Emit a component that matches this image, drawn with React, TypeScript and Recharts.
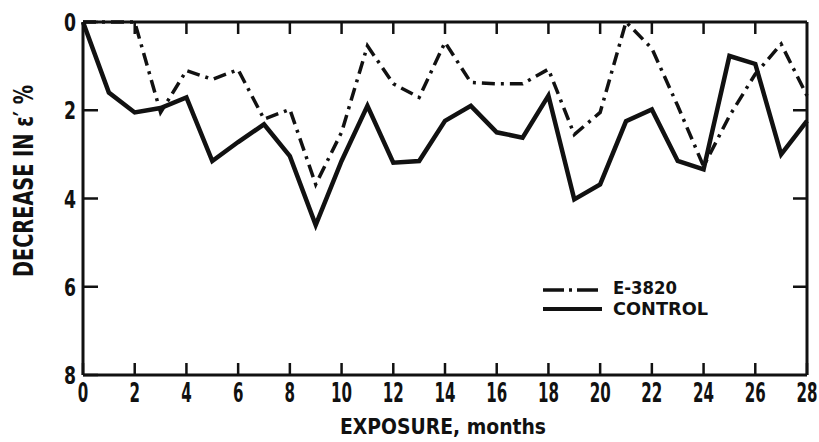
import React from 'react';
import { LineChart, Line, XAxis, YAxis } from 'recharts';

// months of exposure
const months = [0, 1, 2, 3, 4, 5, 6, 7, 8, 9, 10, 11, 12, 13, 14, 15, 16, 17, 18, 19, 20, 21, 22, 23, 24, 25, 26, 27, 28];

// decrease in %
const e3820 = [0, 0, 0, 2.05, 1.1, 1.3, 1.08, 2.2, 1.98, 3.68, 2.5, 0.54, 1.4, 1.71, 0.46, 1.37, 1.4, 1.4, 1.07, 2.55, 2.05, 0, 0.6, 1.9, 3.27, 2.13, 1.18, 0.5, 1.67];
const control = [0, 1.6, 2.05, 1.95, 1.71, 3.15, 2.72, 2.32, 3.04, 4.6, 3.15, 1.9, 3.19, 3.15, 2.24, 1.9, 2.5, 2.62, 1.67, 4.02, 3.68, 2.25, 1.98, 3.15, 3.34, 0.77, 0.95, 3.0, 2.24];

const xTicks = [0, 2, 4, 6, 8, 10, 12, 14, 16, 18, 20, 22, 24, 26, 28];
const innerXTicks = [2, 4, 6, 8, 10, 12, 14, 16, 18, 20, 22, 24, 26];
const yTicks = [0, 2, 4, 6, 8];
const rightYTicks = [2, 4, 6];

const data = months.map((m, i) => ({ month: m, e3820: e3820[i], control: control[i] }));

const FONT = '"DejaVu Sans", "Liberation Sans", sans-serif';
const INK = '#111';
const TICK_LINE = { stroke: INK, strokeWidth: 2.5 };

const BottomTick = (props: any) => {
  const { x, y, payload } = props;
  const s = String(payload.value);
  return (
    <text x={x} y={y + 27} textAnchor="middle" fontFamily={FONT} fontWeight="bold" fontSize={26}
      fill={INK} textLength={s.length * 10.5} lengthAdjust="spacingAndGlyphs">
      {s}
    </text>
  );
};

const LeftTick = (props: any) => {
  const { x, y, payload } = props;
  return (
    <text x={x - 7} y={y + 9} textAnchor="end" fontFamily={FONT} fontWeight="bold" fontSize={24}
      fill={INK} textLength={12} lengthAdjust="spacingAndGlyphs">
      {payload.value}
    </text>
  );
};

const NoTick = () => null;

const YLabel = () => (
  <text
    x={33}
    y={181}
    transform="rotate(-90 33 181)"
    textAnchor="middle"
    fontFamily={FONT}
    fontWeight="bold"
    fontSize={26}
    fill={INK}
    textLength={192}
    lengthAdjust="spacingAndGlyphs"
  >
    DECREASE IN   ε′ %
  </text>
);

const XLabel = () => (
  <text x={443} y={434} textAnchor="middle" fontFamily={FONT} fontWeight="bold" fontSize={22}
    fill={INK} textLength={206} lengthAdjust="spacingAndGlyphs">
    EXPOSURE,  months
  </text>
);

const LegendBox = () => (
  <g fontFamily={FONT} fontWeight="bold" fontSize={18} fill={INK}>
    <line x1={543} x2={602} y1={290} y2={290} stroke={INK} strokeWidth={3.5} strokeDasharray="21 5 3 5" />
    <text x={613} y={294} textLength={64} lengthAdjust="spacingAndGlyphs">E-3820</text>
    <line x1={543} x2={602} y1={309} y2={309} stroke={INK} strokeWidth={4} />
    <text x={613} y={315} textLength={95} lengthAdjust="spacingAndGlyphs">CONTROL</text>
  </g>
);

export default function App() {
  return (
    <div style={{ position: 'absolute', left: 0, top: 0, width: 819, height: 442, background: '#fff' }}>
      <LineChart width={819} height={442} data={data} margin={{ top: 22, right: 12, bottom: 27, left: 43 }}>
        <XAxis
          dataKey="month"
          type="number"
          domain={[0, 28]}
          ticks={xTicks}
          interval={0}
          height={40}
          tickSize={-12}
          tickMargin={12}
          tickLine={TICK_LINE}
          tick={<BottomTick />}
          axisLine={{ stroke: INK, strokeWidth: 3 }}
        />
        <XAxis
          xAxisId="top"
          dataKey="month"
          type="number"
          orientation="top"
          domain={[0, 28]}
          ticks={innerXTicks}
          interval={0}
          height={1}
          mirror
          tickSize={12}
          tickLine={TICK_LINE}
          tick={<NoTick />}
          axisLine={{ stroke: INK, strokeWidth: 3 }}
        />
        <YAxis
          type="number"
          domain={[0, 8]}
          reversed
          ticks={yTicks}
          interval={0}
          width={40}
          tickSize={-15}
          tickMargin={15}
          tickLine={TICK_LINE}
          tick={<LeftTick />}
          axisLine={{ stroke: INK, strokeWidth: 3 }}
        />
        <YAxis
          yAxisId="right"
          orientation="right"
          type="number"
          domain={[0, 8]}
          reversed
          ticks={rightYTicks}
          interval={0}
          width={1}
          mirror
          tickSize={14}
          tickLine={TICK_LINE}
          tick={<NoTick />}
          axisLine={{ stroke: INK, strokeWidth: 3 }}
        />
        {/* invisible series so the frame axes get a domain */}
        <Line
          xAxisId="top"
          yAxisId="right"
          type="linear"
          dataKey="control"
          stroke="none"
          dot={false}
          legendType="none"
          isAnimationActive={false}
        />
        <Line
          type="linear"
          dataKey="e3820"
          stroke={INK}
          strokeWidth={3.5}
          strokeDasharray="13 6 3 6"
          dot={false}
          isAnimationActive={false}
        />
        <Line
          type="linear"
          dataKey="control"
          stroke={INK}
          strokeWidth={4.5}
          dot={false}
          isAnimationActive={false}
        />
        <YLabel />
        <XLabel />
        <LegendBox />
      </LineChart>
    </div>
  );
}
